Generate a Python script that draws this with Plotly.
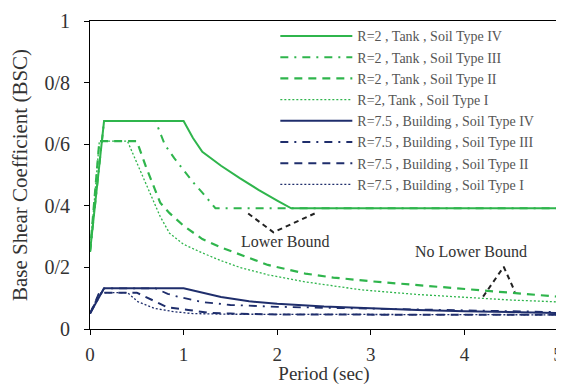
import plotly.graph_objects as go

# ---- data ----
# Tank, R=2
tank4_T = [0, 0.15, 1.0, 1.1, 1.2, 1.4, 1.6, 1.8, 2.0, 2.15, 5.0]
tank4_C = [0.25, 0.675, 0.675, 0.62, 0.575, 0.53, 0.49, 0.452, 0.417, 0.392, 0.392]

tank3_T = [0, 0.15, 0.7, 0.8, 0.9, 1.0, 1.1, 1.2, 1.3, 1.34, 5.0]
tank3_C = [0.25, 0.675, 0.675, 0.598, 0.555, 0.515, 0.477, 0.443, 0.405, 0.392, 0.392]

tank2_T = [0, 0.1, 0.5, 0.6, 0.75, 0.85, 1.0, 1.2, 1.4, 1.6, 1.9, 2.3, 2.6, 3.0, 3.5, 4.0, 4.5, 5.0]
tank2_C = [0.25, 0.61, 0.61, 0.525, 0.41, 0.376, 0.335, 0.292, 0.265, 0.242, 0.208, 0.18,
           0.167, 0.155, 0.143, 0.131, 0.118, 0.105]

tank1_T = [0, 0.1, 0.4, 0.5, 0.57, 0.75, 0.85, 1.0, 1.2, 1.4, 1.6, 1.9, 2.3, 2.9, 3.5, 4.0, 4.5, 5.0]
tank1_C = [0.25, 0.61, 0.61, 0.54, 0.494, 0.365, 0.311, 0.275, 0.247, 0.222, 0.2, 0.176,
           0.153, 0.127, 0.112, 0.102, 0.094, 0.088]

# Building, R=7.5
bld4_T = [0, 0.15, 1.0, 1.2, 1.4, 1.7, 2.0, 2.5, 3.0, 3.5, 4.0, 4.5, 5.0]
bld4_C = [0.05, 0.132, 0.132, 0.117, 0.104, 0.09, 0.082, 0.073, 0.067, 0.062, 0.058, 0.055, 0.052]

bld3_T = [0, 0.15, 0.7, 0.83, 0.94, 1.19, 1.5, 2.0, 2.5, 3.0, 3.5, 4.0, 4.7, 5.0]
bld3_C = [0.05, 0.132, 0.132, 0.114, 0.105, 0.088, 0.078, 0.072, 0.069, 0.066, 0.063, 0.06, 0.056, 0.055]

bld2_T = [0, 0.1, 0.5, 0.62, 0.73, 0.83, 1.05, 1.26, 1.5, 2.0, 5.0]
bld2_C = [0.05, 0.118, 0.118, 0.10, 0.083, 0.07, 0.062, 0.053, 0.05, 0.047, 0.046]

bld1_T = [0, 0.1, 0.4, 0.51, 0.69, 0.9, 1.1, 1.5, 5.0]
bld1_C = [0.05, 0.118, 0.118, 0.089, 0.067, 0.056, 0.05, 0.048, 0.046]

series_names = [
    "R=2 , Tank , Soil Type IV",
    "R=2 , Tank , Soil Type III",
    "R=2 , Tank , Soil Type II",
    "R=2, Tank , Soil Type I",
    "R=7.5 , Building , Soil Type IV",
    "R=7.5 , Building , Soil Type III",
    "R=7.5 , Building , Soil Type II",
    "R=7.5 , Building , Soil Type I",
]

# annotation pointer lines
lb_T = [1.69, 1.96, 2.40]
lb_C = [0.375, 0.314, 0.375]
nlb_T = [4.20, 4.42, 4.54]
nlb_C = [0.105, 0.202, 0.121]
lb_text = "Lower Bound"
nlb_text = "No Lower Bound"

y_ticks = [0, 0.2, 0.4, 0.6, 0.8, 1.0]
y_ticktext = ["0", "0/2", "0/4", "0/6", "0/8", "1"]
x_ticks = [0, 1, 2, 3, 4, 5]

GREEN = "#2fb54c"
NAVY = "#1f2e6c"
FONT = "Liberation Serif"

fig = go.Figure()

styles = [
    (GREEN, "solid", 2.0),
    (GREEN, "8px,6px,2px,6px", 2.0),
    (GREEN, "8px,6px", 2.2),
    (GREEN, "2px,2px", 1.3),
    (NAVY, "solid", 2.0),
    (NAVY, "8px,6px,2px,6px", 1.8),
    (NAVY, "8px,6px", 2.0),
    (NAVY, "2px,2px", 1.3),
]
data = [(tank4_T, tank4_C), (tank3_T, tank3_C), (tank2_T, tank2_C), (tank1_T, tank1_C),
        (bld4_T, bld4_C), (bld3_T, bld3_C), (bld2_T, bld2_C), (bld1_T, bld1_C)]

for (xs, ys), name, (col, dash, w) in zip(data, series_names, styles):
    fig.add_trace(go.Scatter(x=xs, y=ys, mode="lines", name=name,
                             line=dict(color=col, dash=dash, width=w)))

for xs, ys in [(lb_T, lb_C), (nlb_T, nlb_C)]:
    fig.add_trace(go.Scatter(x=xs, y=ys, mode="lines", showlegend=False, hoverinfo="skip",
                             line=dict(color="#222222", dash="5px,4px", width=2)))

fig.add_annotation(x=2.08, y=0.283, text=lb_text, showarrow=False,
                   font=dict(family=FONT, size=16, color="#333333"))
fig.add_annotation(x=4.07, y=0.252, text=nlb_text, showarrow=False,
                   font=dict(family=FONT, size=16, color="#333333"))

# the page body adds an 8px offset, so the figure is sized to fit the window
fig.update_layout(
    width=556, height=377,
    margin=dict(l=82, r=6, t=13, b=56),
    plot_bgcolor="white", paper_bgcolor="white",
    font=dict(family=FONT, color="#333333"),
    legend=dict(x=0.396, y=1.002, xanchor="left", yanchor="top",
                bgcolor="rgba(0,0,0,0)", font=dict(family=FONT, size=14, color="#555555"),
                itemwidth=72, tracegroupgap=0),
    xaxis=dict(range=[0, 5], tickvals=x_ticks, showgrid=False, zeroline=False,
               showline=True, linecolor="black", linewidth=1, mirror=True,
               ticks="outside", ticklen=5, tickcolor="black", automargin=False,
               ticklabelstandoff=3,
               tickfont=dict(family=FONT, size=19, color="#333333"),
               title=dict(text="Period (sec)", font=dict(family=FONT, size=19, color="#333333"),
                          standoff=4)),
    yaxis=dict(range=[0, 1], tickvals=y_ticks, ticktext=y_ticktext, showgrid=False,
               zeroline=False, showline=True, linecolor="black", linewidth=1, mirror=True,
               ticks="outside", ticklen=5, tickcolor="black", automargin=False,
               ticklabelstandoff=10,
               tickfont=dict(family=FONT, size=20, color="#333333"),
               title=dict(text="Base Shear Coefficient (BSC)",
                          font=dict(family=FONT, size=21, color="#333333"), standoff=12)),
    showlegend=True,
)

fig.write_html("out.html")
